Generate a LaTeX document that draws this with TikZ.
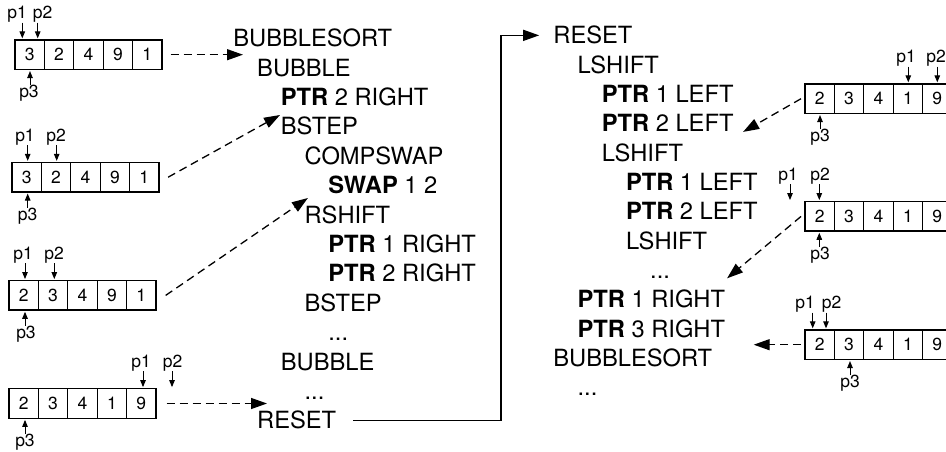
\documentclass[tikz,border=0pt]{standalone}
\usepackage{fontspec}
\setmainfont{TeX Gyre Heros}
\usetikzlibrary{arrows.meta}
\tikzset{
  cell/.style={draw, line width=1.3pt, minimum width=29.4pt, minimum height=29.4pt, inner sep=0pt, font=\fontsize{17.5}{20}\selectfont},
  plab/.style={anchor=base, inner sep=0pt, font=\fontsize{17.5}{20}\selectfont},
  parrow/.style={line width=1pt, shorten >=1pt, -{Triangle[length=7pt,width=5.5pt]}},
  code/.style={anchor=base west, inner sep=0pt, font=\fontsize{23.7}{28}\selectfont},
  dasharrow/.style={line width=1.3pt, dash pattern=on 8pt off 5pt, -{Triangle[length=16pt,width=11pt]}},
  solidarrow/.style={line width=1.3pt, -{Triangle[length=16pt,width=11pt]}},
}
\newcommand\cellarray[4]{%
  \foreach \v [count=\i] in {#4} {\node[cell] (#1c\i) at ({#2+14.7+29.4*(\i-1)},#3) {\v};}}
\begin{document}
\begin{tikzpicture}[x=1pt,y=-1pt]
\useasboundingbox (0,0) rectangle (946,452);
\clip (0,0) rectangle (946,452);

% ---------- left arrays ----------
\cellarray{L1}{15}{54.7}{3,2,4,9,1}
\cellarray{L2}{12}{177.2}{3,2,4,9,1}
\cellarray{L3}{9}{295.4}{2,3,4,9,1}
\cellarray{L4}{9}{403.5}{2,3,4,1,9}
% ---------- right arrays ----------
\cellarray{R1}{805}{98.7}{2,3,4,1,9}
\cellarray{R2}{805}{216.4}{2,3,4,1,9}
\cellarray{R3}{805}{344.7}{2,3,4,1,9}

% ---------- pointers ----------
% L1
\node[plab] (L1p1) at (17.2,18.5) {p1};
\node[plab] (L1p2) at (42.5,18.5) {p2};
\node[plab] (L1p3) at (29,97.9) {p3};
\draw[parrow] (L1p1.south -| 22.3,0) -- (L1c1.north -| 22.3,0);
\draw[parrow] (L1p2.south -| 37.7,0) -- (L1c1.north -| 37.7,0);
\draw[parrow] (L1p3.north -| 30,0) -- (L1c1.south -| 30,0);
% L2
\node[plab] (L2p1) at (25,141) {p1};
\node[plab] (L2p2) at (56,141) {p2};
\node[plab] (L2p3) at (27.5,220.4) {p3};
\draw[parrow] (L2p1.south -| 27.7,0) -- (L2c1.north -| 27.7,0);
\draw[parrow] (L2p2.south -| 56.7,0) -- (L2c2.north -| 56.7,0);
\draw[parrow] (L2p3.north -| 27.7,0) -- (L2c1.south -| 27.7,0);
% L3
\node[plab] (L3p1) at (23,259.2) {p1};
\node[plab] (L3p2) at (54,259.2) {p2};
\node[plab] (L3p3) at (26,338.6) {p3};
\draw[parrow] (L3p1.south -| 25,0) -- (L3c1.north -| 25,0);
\draw[parrow] (L3p2.south -| 54.3,0) -- (L3c2.north -| 54.3,0);
\draw[parrow] (L3p3.north -| 25,0) -- (L3c1.south -| 25,0);
% L4
\node[plab] (L4p1) at (141,367.3) {p1};
\node[plab] (L4p2) at (172.5,367.3) {p2};
\node[plab] (L4p3) at (25,446.7) {p3};
\draw[parrow] (L4p1.south -| 143,0) -- (L4c5.north -| 143,0);
\draw[parrow] (L4p2.south -| 172,0) -- (L4c5.north -| 172,0);
\draw[parrow] (L4p3.north -| 25,0) -- (L4c1.south -| 25,0);
% R1
\node[plab] (R1p1) at (906,62.5) {p1};
\node[plab] (R1p2) at (936,62.5) {p2};
\node[plab] (R1p3) at (820,141.9) {p3};
\draw[parrow] (R1p1.south -| 908.3,0) -- (R1c4.north -| 908.3,0);
\draw[parrow] (R1p2.south -| 937.3,0) -- (R1c5.north -| 937.3,0);
\draw[parrow] (R1p3.north -| 820,0) -- (R1c1.south -| 820,0);
% R2
\node[plab] (R2p1) at (788,180.2) {p1};
\node[plab] (R2p2) at (820,180.2) {p2};
\node[plab] (R2p3) at (820,259.6) {p3};
\draw[parrow] (R2p1.south -| 790,0) -- (R2c1.north -| 790,0);
\draw[parrow] (R2p2.south -| 819.3,0) -- (R2c1.north -| 819.3,0);
\draw[parrow] (R2p3.north -| 819.3,0) -- (R2c1.south -| 819.3,0);
% R3
\node[plab] (R3p1) at (805,308.5) {p1};
\node[plab] (R3p2) at (831.7,308.5) {p2};
\node[plab] (R3p3) at (850,387.9) {p3};
\draw[parrow] (R3p1.south -| 812.7,0) -- (R3c1.north -| 812.7,0);
\draw[parrow] (R3p2.south -| 826,0) -- (R3c1.north -| 826,0);
\draw[parrow] (R3p3.north -| 850,0) -- (R3c2.south -| 850,0);

% ---------- first program column ----------
\node[code] (bs1)    at (233.2,46.7)  {BUBBLESORT};
\node[code] (bub1)   at (257.0,76.1)  {BUBBLE};
\node[code] (ptr2ra) at (280.7,105.5) {\textbf{PTR} 2 RIGHT};
\node[code] (bstep1) at (280.7,134.9) {BSTEP};
\node[code] (comp)   at (304.4,164.3) {COMPSWAP};
\node[code] (swap)   at (328.2,193.7) {\textbf{SWAP} 1 2};
\node[code] (rshift) at (304.4,223.1) {RSHIFT};
\node[code] (ptr1ra) at (328.2,252.5) {\textbf{PTR} 1 RIGHT};
\node[code] (ptr2rb) at (328.2,281.9) {\textbf{PTR} 2 RIGHT};
\node[code] (bstep2) at (304.4,311.3) {BSTEP};
\node[code] (dotsa)  at (328.2,340.7) {...};
\node[code] (bub2)   at (280.7,370.1) {BUBBLE};
\node[code] (dotsb)  at (304.4,399.5) {...};
\node[code] (reset1) at (257.0,428.9) {RESET};

% ---------- second program column ----------
\node[code] (reset2) at (553.2,44.0)  {RESET};
\node[code] (lsh1)   at (577.4,73.3)  {LSHIFT};
\node[code] (ptr1la) at (601.6,102.6) {\textbf{PTR} 1 LEFT};
\node[code] (ptr2la) at (601.6,131.9) {\textbf{PTR} 2 LEFT};
\node[code] (lsh2)   at (601.6,161.2) {LSHIFT};
\node[code] (ptr1lb) at (625.8,190.5) {\textbf{PTR} 1 LEFT};
\node[code] (ptr2lb) at (625.8,219.8) {\textbf{PTR} 2 LEFT};
\node[code] (lsh3)   at (625.8,249.1) {LSHIFT};
\node[code] (dotsc)  at (650.0,278.4) {...};
\node[code] (ptr1rc) at (577.4,307.7) {\textbf{PTR} 1 RIGHT};
\node[code] (ptr3r)  at (577.4,337.0) {\textbf{PTR} 3 RIGHT};
\node[code] (bs2)    at (553.2,366.3) {BUBBLESORT};
\node[code] (dotsd)  at (577.4,395.6) {...};

% ---------- connectors ----------
\draw[dasharrow] ([xshift=8pt]L1c5.east) -- ([xshift=9.8pt,yshift=-8pt]bs1.base west);
\draw[dasharrow] ([xshift=8.5pt]L2c5.east) -- ([xshift=-0.7pt,yshift=19.9pt]bstep1.base west);
\draw[dasharrow] ([xshift=9pt]L3c5.east) -- ([xshift=3.5pt,yshift=25.1pt]rshift.base west);
\draw[dasharrow] ([xshift=10pt]L4c5.east) -- ([xshift=10pt,yshift=25.4pt]reset1.base west);
\draw[dasharrow] ([xshift=-3.3pt]R1c1.west) -- ([xshift=9.4pt]ptr2la.base east);
\draw[dasharrow] ([xshift=-3.3pt]R2c1.west) -- ([xshift=1.8pt,yshift=29.4pt]ptr1rc.base east);
\draw[dasharrow] ([xshift=-3.3pt]R3c1.west) -- ([xshift=28.4pt,yshift=-7.7pt]ptr3r.base east);

\coordinate (bend) at (501,0);
\draw[solidarrow] ([xshift=17pt]reset1.east) -- (reset1.east -| bend) -- (bend |- reset2.west) -- ([xshift=-14pt]reset2.west);
\end{tikzpicture}
\end{document}
